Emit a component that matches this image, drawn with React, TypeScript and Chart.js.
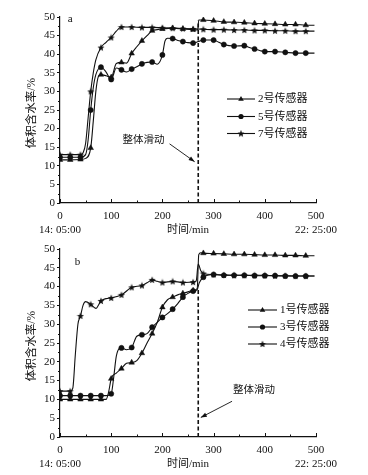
import React, { useEffect, useRef } from "react";
import { Chart, registerables } from "chart.js";
Chart.register(...registerables);

const FONT = "'Liberation Serif', 'Noto Sans CJK SC', serif";
const INK = "#111";

// ---------- Panel a ----------
const aS2T = [0, 20, 40, 50, 60, 65, 70, 75, 80, 90, 100, 110, 120, 130, 140, 150, 160, 170, 180, 190, 200, 220, 240, 260, 269, 271, 280, 300, 320, 340, 360, 380, 400, 420, 440, 460, 480, 497];
const aS2V = [11.6, 11.6, 11.7, 12, 14.8, 22, 30, 34, 34.5, 34.2, 33.8, 37.5, 37.8, 37.6, 40.2, 42, 43.6, 45, 46.3, 46.6, 46.8, 47, 46.8, 46.6, 46.5, 49.2, 49.2, 49.0, 48.7, 48.6, 48.5, 48.3, 48.2, 48.1, 48.0, 48.0, 47.8, 47.8];
const aS5T = [0, 20, 40, 50, 55, 60, 65, 70, 80, 90, 100, 110, 120, 130, 140, 150, 160, 170, 180, 190, 200, 205, 210, 220, 230, 240, 250, 260, 270, 280, 300, 310, 320, 340, 360, 370, 380, 390, 400, 420, 440, 460, 480, 497];
const aS5V = [12.3, 12.3, 12.3, 13, 17, 25, 31, 34.5, 36.5, 35.2, 33.2, 36.3, 35.8, 35.2, 36, 36.6, 37.4, 37.8, 37.9, 37.3, 39.8, 43.5, 44.3, 44.2, 43.7, 43.4, 43.1, 43, 43.4, 43.8, 43.8, 43.2, 42.6, 42.2, 42.3, 41.8, 41.4, 41, 40.7, 40.7, 40.5, 40.3, 40.3, 40.3];
const aS7T = [0, 20, 40, 45, 50, 55, 60, 65, 70, 80, 90, 100, 110, 120, 140, 160, 180, 200, 220, 240, 260, 280, 300, 320, 340, 360, 380, 400, 420, 440, 460, 480, 497];
const aS7V = [13, 13, 13, 13.5, 16, 23, 30, 35, 38.5, 41.8, 43.2, 44.5, 46.2, 47.3, 47.3, 47.2, 47.2, 47.1, 47, 46.9, 46.8, 46.7, 46.6, 46.6, 46.5, 46.5, 46.4, 46.4, 46.3, 46.3, 46.2, 46.2, 46.2];
const aLabels = ["2号传感器", "5号传感器", "7号传感器"];

// ---------- Panel b ----------
const bS1T = [0, 20, 40, 60, 80, 90, 95, 100, 110, 120, 130, 140, 150, 160, 170, 180, 190, 200, 210, 220, 230, 240, 250, 260, 268, 271, 275, 280, 300, 320, 340, 360, 380, 400, 420, 440, 460, 480, 497];
const bS1V = [10, 10, 10, 10, 10, 10, 12, 15.5, 17, 18.2, 19.6, 19.8, 20.3, 22.3, 25, 27.5, 30.5, 34.5, 36.5, 37.2, 37.8, 38.2, 38.6, 39, 39.5, 48.5, 49, 48.9, 48.8, 48.7, 48.6, 48.6, 48.5, 48.4, 48.4, 48.3, 48.3, 48.2, 48.2];
const bS3T = [0, 20, 40, 60, 80, 90, 100, 105, 110, 120, 130, 140, 150, 160, 170, 180, 190, 200, 210, 220, 230, 240, 250, 260, 268, 272, 280, 300, 320, 340, 360, 380, 400, 420, 440, 460, 480, 497];
const bS3V = [11, 11, 11, 11, 11, 11, 11.5, 16, 21.5, 23.7, 23.2, 23.8, 26.8, 27.2, 27.5, 29.2, 30.5, 31.8, 32.8, 34, 35.5, 37.2, 38.2, 38.8, 39.2, 41, 42.5, 43.2, 43, 43, 43, 42.9, 42.9, 42.9, 42.8, 42.8, 42.8, 42.8];
const bS4T = [0, 20, 25, 30, 35, 40, 45, 50, 60, 70, 80, 90, 100, 120, 140, 160, 170, 180, 190, 200, 220, 240, 260, 266, 270, 275, 280, 300, 320, 340, 360, 380, 400, 420, 440, 460, 480, 497];
const bS4V = [12.2, 12.2, 13, 22, 30, 32.2, 35, 36, 35.3, 34.2, 36.2, 36.8, 37, 37.8, 39.8, 40.3, 41, 41.8, 41.4, 41.1, 41.4, 41.1, 41.2, 41.5, 46, 44.2, 43.5, 43.2, 43.1, 43, 43, 43, 43, 42.9, 42.9, 42.8, 42.8, 42.8];
const bLabels = ["1号传感器", "3号传感器", "4号传感器"];

// ticks / text
const xTicks = [0, 100, 200, 300, 400, 500];
const yTicks = [0, 5, 10, 15, 20, 25, 30, 35, 40, 45, 50];
const startTime = "14: 05:00";
const endTime = "22: 25:00";
const xTitle = "时间/min";
const yTitle = "体积含水率/%";
const slideText = "整体滑动";
const slideT = 270;

type Style = "triangle" | "circle" | "star";
type Series = { t: number[]; v: number[]; style: Style; label: string };

function makeStar(): HTMLCanvasElement {
  const c = document.createElement("canvas");
  c.width = 8;
  c.height = 8;
  const ctx = c.getContext("2d")!;
  ctx.fillStyle = INK;
  ctx.beginPath();
  for (let i = 0; i < 10; i++) {
    const r = i % 2 === 0 ? 3.7 : 1.6;
    const a = -Math.PI / 2 + (i * Math.PI) / 5;
    ctx.lineTo(4 + r * Math.cos(a), 4.3 + r * Math.sin(a));
  }
  ctx.closePath();
  ctx.fill();
  return c;
}

type PanelProps = {
  top: number;
  height: number;
  plotTop: number;
  plotBottom: number;
  series: Series[];
  dashTop: number;
  tag: string;
  tagPos: [number, number];
  legendX: [number, number, number];
  legendY: number[];
  note: { tx: number; ty: number; ax0: number; ay0: number; ax1: number; ay1: number };
};

function drawMarker(ctx: CanvasRenderingContext2D, style: Style, x: number, y: number, star: HTMLCanvasElement) {
  ctx.fillStyle = INK;
  if (style === "circle") {
    ctx.beginPath();
    ctx.arc(x, y, 2.6, 0, Math.PI * 2);
    ctx.fill();
  } else if (style === "triangle") {
    ctx.beginPath();
    ctx.moveTo(x, y - 3);
    ctx.lineTo(x + 2.8, y + 1.8);
    ctx.lineTo(x - 2.8, y + 1.8);
    ctx.closePath();
    ctx.fill();
  } else {
    ctx.drawImage(star, x - star.width / 2, y - star.height / 2);
  }
}

function Panel(p: PanelProps) {
  const ref = useRef<HTMLCanvasElement | null>(null);
  useEffect(() => {
    const canvas = ref.current!;
    const star = makeStar();
    const overlay = {
      id: "overlay",
      afterDraw(chart: any) {
        const ctx: CanvasRenderingContext2D = chart.ctx;
        const xs = chart.scales.x;
        const ys = chart.scales.y;
        const ca = chart.chartArea;
        ctx.save();
        ctx.strokeStyle = INK;
        ctx.fillStyle = INK;
        // x ticks (inward), major and minor
        ctx.lineWidth = 1;
        ctx.beginPath();
        for (let i = 0; i < xTicks.length; i++) {
          const px = Math.round(xs.getPixelForValue(xTicks[i])) + 0.5;
          ctx.moveTo(px, ca.bottom);
          ctx.lineTo(px, ca.bottom - 4);
          if (i < xTicks.length - 1) {
            const pm = Math.round(xs.getPixelForValue((xTicks[i] + xTicks[i + 1]) / 2)) + 0.5;
            ctx.moveTo(pm, ca.bottom);
            ctx.lineTo(pm, ca.bottom - 2.5);
          }
        }
        for (let i = 0; i < yTicks.length - 1; i++) {
          const py = Math.round(ys.getPixelForValue((yTicks[i] + yTicks[i + 1]) / 2)) + 0.5;
          ctx.moveTo(ca.left, py);
          ctx.lineTo(ca.left - 2, py);
        }
        ctx.stroke();
        // y title
        ctx.font = `11.5px ${FONT}`;
        ctx.textAlign = "center";
        ctx.textBaseline = "middle";
        ctx.save();
        ctx.translate(32, (ca.top + ca.bottom) / 2 + 3);
        ctx.rotate(-Math.PI / 2);
        ctx.fillText(yTitle, 0, 0);
        ctx.restore();
        // x title
        ctx.font = `11px ${FONT}`;
        ctx.fillText(xTitle, xs.getPixelForValue(250), ca.bottom + 27);
        // tag
        ctx.font = `11px ${FONT}`;
        ctx.textAlign = "left";
        ctx.fillText(p.tag, xs.getPixelForValue(p.tagPos[0]), ys.getPixelForValue(p.tagPos[1]));
        // legend
        p.series.forEach((s, i) => {
          const y = p.legendY[i];
          ctx.lineWidth = 1.1;
          ctx.beginPath();
          ctx.moveTo(p.legendX[0], y);
          ctx.lineTo(p.legendX[1], y);
          ctx.stroke();
          drawMarker(ctx, s.style, (p.legendX[0] + p.legendX[1]) / 2, y, star);
          ctx.font = `11px ${FONT}`;
          ctx.textAlign = "left";
          ctx.fillText(s.label, p.legendX[2], y + 0.5);
        });
        // note + arrow
        const n = p.note;
        ctx.font = `10.5px ${FONT}`;
        ctx.textAlign = "left";
        ctx.fillText(slideText, xs.getPixelForValue(n.tx), ys.getPixelForValue(n.ty));
        const x0 = xs.getPixelForValue(n.ax0), y0 = ys.getPixelForValue(n.ay0);
        const x1 = xs.getPixelForValue(n.ax1), y1 = ys.getPixelForValue(n.ay1);
        ctx.lineWidth = 0.9;
        ctx.beginPath();
        ctx.moveTo(x0, y0);
        ctx.lineTo(x1, y1);
        ctx.stroke();
        const ang = Math.atan2(y1 - y0, x1 - x0);
        ctx.beginPath();
        ctx.moveTo(x1, y1);
        ctx.lineTo(x1 - 6 * Math.cos(ang) + 2.2 * Math.sin(ang), y1 - 6 * Math.sin(ang) - 2.2 * Math.cos(ang));
        ctx.lineTo(x1 - 6 * Math.cos(ang) - 2.2 * Math.sin(ang), y1 - 6 * Math.sin(ang) + 2.2 * Math.cos(ang));
        ctx.closePath();
        ctx.fill();
        ctx.restore();
      },
    };

    const datasets: any[] = p.series.map((s) => ({
      data: s.t.map((t, i) => ({ x: t, y: s.v[i] })),
      borderColor: INK,
      backgroundColor: INK,
      borderWidth: 1.1,
      pointStyle: s.style === "star" ? star : s.style,
      pointRadius: (c: any) => {
        const r = c.raw;
        if (!r || r.x % 20 !== 0 || r.x > 480) return 0;
        return s.style === "triangle" ? 3.2 : s.style === "circle" ? 2.6 : 3;
      },
      pointBorderWidth: 0.5,
      pointHoverRadius: 0,
      cubicInterpolationMode: "monotone",
      fill: false,
    }));
    datasets.push({
      data: [
        { x: slideT, y: 0 },
        { x: slideT, y: p.dashTop },
      ],
      borderColor: INK,
      borderWidth: 1.6,
      borderDash: [4, 2.5],
      pointRadius: 0,
      fill: false,
    });

    const chart = new Chart(canvas, {
      type: "line",
      data: { datasets },
      options: {
        animation: false,
        responsive: false,
        maintainAspectRatio: false,
        events: [],
        font: { family: FONT },
        layout: { padding: { left: 0, right: 52, top: p.plotTop, bottom: 0 } },
        plugins: { legend: { display: false }, tooltip: { enabled: false } },
        scales: {
          x: {
            type: "linear",
            min: 0,
            max: 500,
            afterBuildTicks: (s: any) => {
              s.ticks = xTicks.map((v) => ({ value: v }));
            },
            ticks: {
              font: { family: FONT, size: 11, lineHeight: 1.3 },
              color: INK,
              padding: 6,
              maxRotation: 0,
              autoSkip: false,
              callback: (v: any) =>
                v === xTicks[0] ? [String(v), startTime] : v === xTicks[xTicks.length - 1] ? [String(v), endTime] : String(v),
            },
            grid: { display: true, drawOnChartArea: false, drawTicks: false },
            border: { display: true, color: INK, width: 1.2 },
            afterFit: (s: any) => {
              s.height = p.height - p.plotBottom;
            },
          },
          y: {
            type: "linear",
            min: 0,
            max: 50,
            afterBuildTicks: (s: any) => {
              s.ticks = yTicks.map((v) => ({ value: v }));
            },
            ticks: { font: { family: FONT, size: 11 }, color: INK, padding: 2, autoSkip: false },
            grid: { display: true, drawOnChartArea: false, drawTicks: true, tickLength: 3, color: INK, tickWidth: 1 },
            border: { display: true, color: INK, width: 1.2 },
            afterFit: (s: any) => {
              s.width = 60;
            },
          },
        },
      } as any,
      plugins: [overlay as any],
    });
    return () => chart.destroy();
  }, []);
  return (
    <canvas
      ref={ref}
      width={368}
      height={p.height}
      style={{ position: "absolute", left: 0, top: p.top, width: 368, height: p.height, display: "block" }}
    />
  );
}

export default function App() {
  const seriesA: Series[] = [
    { t: aS2T, v: aS2V, style: "triangle", label: aLabels[0] },
    { t: aS5T, v: aS5V, style: "circle", label: aLabels[1] },
    { t: aS7T, v: aS7V, style: "star", label: aLabels[2] },
  ];
  const seriesB: Series[] = [
    { t: bS1T, v: bS1V, style: "triangle", label: bLabels[0] },
    { t: bS3T, v: bS3V, style: "circle", label: bLabels[1] },
    { t: bS4T, v: bS4V, style: "star", label: bLabels[2] },
  ];
  return (
    <div style={{ position: "absolute", left: 0, top: 0, width: 368, height: 475, background: "#fff" }}>
      <Panel
        top={0}
        height={237}
        plotTop={17}
        plotBottom={203}
        series={seriesA}
        dashTop={49}
        tag="a"
        tagPos={[15, 49.3]}
        legendX={[227, 255, 258]}
        legendY={[99, 116.5, 133.5]}
        note={{ tx: 122, ty: 17, ax0: 214, ay0: 15.9, ax1: 263, ay1: 11.1 }}
      />
      <Panel
        top={235}
        height={240}
        plotTop={14}
        plotBottom={202}
        series={seriesB}
        dashTop={39.5}
        tag="b"
        tagPos={[29, 46.5]}
        legendX={[248, 277, 280]}
        legendY={[75, 92, 109]}
        note={{ tx: 338, ty: 12.5, ax0: 336, ay0: 9.5, ax1: 275, ay1: 5.2 }}
      />
    </div>
  );
}
